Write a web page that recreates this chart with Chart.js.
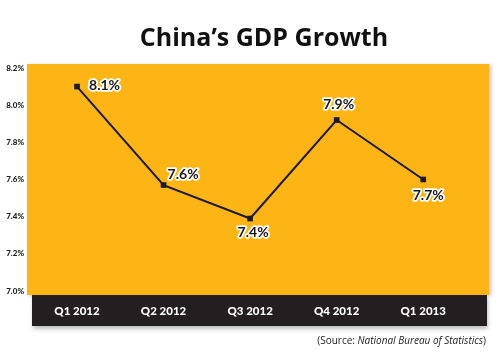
<!DOCTYPE html>
<html>
<head>
<meta charset="utf-8">
<script src="https://cdn.jsdelivr.net/npm/chart.js@4.4.1/dist/chart.umd.min.js"></script>
<style>
  html,body{margin:0;padding:0;background:#fff;}
  #wrap{position:relative;width:500px;height:355px;}
</style>
</head>
<body>
<div id="wrap"><canvas id="c" width="500" height="355"></canvas></div>
<script>
// ---- data ----
const categories = ["Q1 2012", "Q2 2012", "Q3 2012", "Q4 2012", "Q1 2013"];
const gdpGrowth = [8.1, 7.57, 7.39, 7.92, 7.6];
const pointLabels = ["8.1%", "7.6%", "7.4%", "7.9%", "7.7%"];
const yTicks = [7.0, 7.2, 7.4, 7.6, 7.8, 8.0, 8.2];
const titleText = "China\u2019s GDP Growth";

const YELLOW = "#FDB515";
const DARK = "#231F20";
const LINE = "#1B1A2A";

// label placement: [dx, dy, align]
const labelPlace = [[12, -1, "left"], [4, -11, "left"], [3, 14, "center"], [2, -16, "center"], [5, 16, "center"]];

const bgPlugin = {
  id: "bg",
  beforeDraw(chart) {
    const {ctx, chartArea: a} = chart;
    ctx.save();
    ctx.shadowColor = "rgba(0,0,0,0.25)";
    ctx.shadowBlur = 4;
    ctx.shadowOffsetX = 2;
    ctx.shadowOffsetY = 1;
    ctx.fillStyle = YELLOW;
    ctx.fillRect(a.left - 5, a.top - 4, a.right - a.left + 5, a.bottom - a.top + 8);
    ctx.shadowOffsetX = 1;
    ctx.shadowOffsetY = 3;
    ctx.fillStyle = DARK;
    ctx.fillRect(a.left, a.bottom + 4, a.right - a.left - 2, 31);
    ctx.restore();
    ctx.save();
    ctx.fillStyle = "#111";
    ctx.font = "bold 25px 'Open Sans', sans-serif";
    ctx.textAlign = "center";
    ctx.textBaseline = "alphabetic";
    ctx.fillText(titleText, 264, 46);
    const p1 = "(Source: ", p2 = "National Bureau of Statistics", p3 = ")";
    const fN = "10px 'Liberation Sans Narrow', 'Open Sans', sans-serif";
    const fI = "italic 10px 'Liberation Sans Narrow', 'Open Sans', sans-serif";
    ctx.font = fN;
    const w1 = ctx.measureText(p1).width;
    const w3 = ctx.measureText(p3).width;
    ctx.font = fI;
    const w2 = ctx.measureText(p2).width;
    let x = 486 - (w1 + w2 + w3);
    ctx.textAlign = "left";
    ctx.textBaseline = "middle";
    ctx.fillStyle = "#222";
    ctx.font = fN; ctx.fillText(p1, x, 341);
    ctx.font = fI; ctx.fillText(p2, x + w1, 341);
    ctx.font = fN; ctx.fillText(p3, x + w1 + w2, 341);
    ctx.restore();
  },
  afterDatasetsDraw(chart) {
    const {ctx} = chart;
    const meta = chart.getDatasetMeta(0);
    ctx.save();
    ctx.font = "bold 14px Lato, sans-serif";
    ctx.textBaseline = "middle";
    ctx.lineJoin = "round";
    meta.data.forEach((pt, i) => {
      const [dx, dy, al] = labelPlace[i];
      ctx.textAlign = al;
      ctx.lineWidth = 3.5;
      ctx.strokeStyle = "#fff";
      ctx.strokeText(pointLabels[i], pt.x + dx, pt.y + dy);
      ctx.fillStyle = "#1a1a1a";
      ctx.fillText(pointLabels[i], pt.x + dx, pt.y + dy);
    });
    ctx.restore();
  }
};

new Chart(document.getElementById("c"), {
  type: "line",
  data: {
    datasets: [{
      data: gdpGrowth.map((v, i) => ({x: i, y: v})),
      borderColor: LINE,
      borderWidth: 2,
      pointStyle: "rect",
      pointRadius: 4,
      pointBackgroundColor: LINE,
      pointBorderColor: LINE,
      pointBorderWidth: 0,
      tension: 0
    }]
  },
  options: {
    responsive: false,
    animation: false,
    events: [],
    layout: {padding: {left: 0, top: 68, right: 11, bottom: 34}},
    plugins: {legend: {display: false}, tooltip: {enabled: false}, title: {display: false}},
    scales: {
      x: {
        type: "linear",
        min: -0.52,
        max: 4.76,
        grid: {display: false, drawTicks: false},
        border: {display: false},
        afterBuildTicks(s) { s.ticks = categories.map((c, i) => ({value: i})); },
        afterFit(s) { s.height = 30; },
        ticks: {
          callback: (v) => categories[v] ?? "",
          color: "#fff",
          font: {family: "Lato, sans-serif", weight: "900", size: 11.5},
          padding: 13,
          maxRotation: 0,
          autoSkip: false
        }
      },
      y: {
        min: 7.0,
        max: 8.2,
        grid: {display: false, drawTicks: false},
        border: {display: false},
        afterBuildTicks(s) { s.ticks = yTicks.map(v => ({value: v})); },
        afterFit(s) { s.width = 32; },
        ticks: {
          callback: (v) => v.toFixed(1) + "%",
          color: "#222",
          font: {family: "Lato, sans-serif", weight: "900", size: 8},
          padding: 8
        }
      }
    }
  },
  plugins: [bgPlugin]
});
</script>
</body>
</html>
